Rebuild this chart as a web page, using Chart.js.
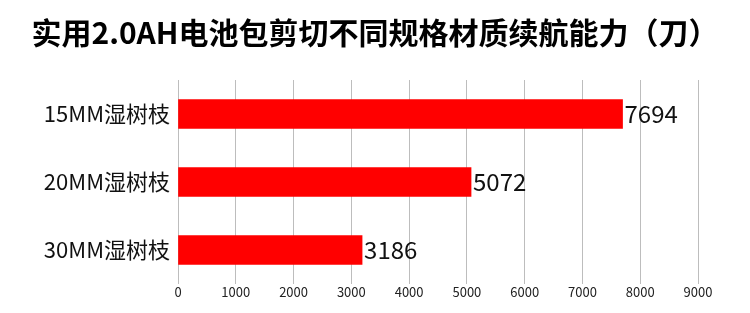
<!DOCTYPE html>
<html>
<head>
<meta charset="utf-8">
<script src="https://cdn.jsdelivr.net/npm/chart.js@4/dist/chart.umd.min.js"></script>
<style>
  html, body { margin: 0; padding: 0; background: #fff; }
  #wrap { width: 750px; height: 313px; }
</style>
</head>
<body>
<div id="wrap"><canvas id="chart" width="750" height="313"></canvas></div>
<script>
// données
const titleText = '实用2.0AH电池包剪切不同规格材质续航能力（刀）';
const categories = ['15MM湿树枝', '20MM湿树枝', '30MM湿树枝'];
const cuts = [7694, 5072, 3186];
const xTicks = [0, 1000, 2000, 3000, 4000, 5000, 6000, 7000, 8000, 9000];

const CJK = '"Noto Sans CJK SC", "Noto Sans", sans-serif';

// valeurs au bout des barres
const valueLabels = {
    id: 'valueLabels',
    afterDatasetsDraw(chart) {
        const ctx = chart.ctx;
        const meta = chart.getDatasetMeta(0);
        ctx.save();
        ctx.font = '24px ' + CJK;
        ctx.fillStyle = '#111';
        ctx.textAlign = 'left';
        ctx.textBaseline = 'middle';
        meta.data.forEach((bar, i) => {
            ctx.fillText(String(cuts[i]), bar.x + 2, bar.y);
        });
        ctx.restore();
    }
};

new Chart(document.getElementById('chart').getContext('2d'), {
    type: 'bar',
    data: {
        labels: categories,
        datasets: [{
            data: cuts,
            backgroundColor: '#ff0000',
            borderWidth: 0,
            barThickness: 29
        }]
    },
    options: {
        indexAxis: 'y',
        responsive: false,
        animation: false,
        layout: { padding: 0 },
        plugins: {
            legend: { display: false },
            tooltip: { enabled: false },
            title: {
                display: true,
                text: titleText,
                color: '#000',
                font: { family: CJK, size: 30, weight: 'bold', lineHeight: 1.2 },
                padding: { top: 15, bottom: 29 }
            }
        },
        scales: {
            x: {
                type: 'linear',
                min: 0,
                max: 9000,
                afterBuildTicks(scale) {
                    scale.ticks = xTicks.map(v => ({ value: v }));
                },
                afterFit(scale) { scale.height = 29; },
                border: { display: false },
                grid: { color: '#bdbdbd', lineWidth: 1, drawTicks: false },
                ticks: {
                    padding: 0,
                    color: '#222',
                    font: { family: CJK, size: 13 },
                    callback: v => String(v)
                }
            },
            y: {
                afterFit(scale) { scale.width = 178; },
                border: { display: false },
                grid: { display: false, drawTicks: false },
                ticks: {
                    padding: 8,
                    color: '#111',
                    font: { family: CJK, size: 22 }
                }
            },
            // marge à droite, sans décaler le titre
            rightGap: {
                type: 'category',
                axis: 'y',
                position: 'right',
                afterFit(scale) { scale.width = 52; },
                border: { display: false },
                grid: { display: false, drawTicks: false },
                ticks: { display: false }
            }
        }
    },
    plugins: [valueLabels]
});
</script>
</body>
</html>
